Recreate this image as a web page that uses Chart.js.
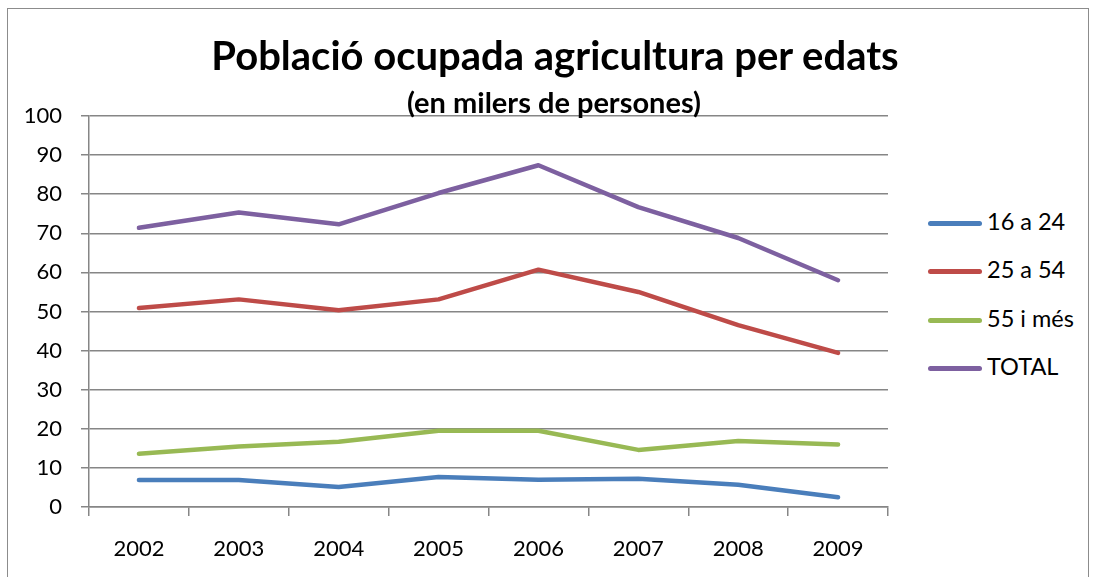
<!DOCTYPE html>
<html>
<head>
<meta charset="utf-8">
<script src="https://cdn.jsdelivr.net/npm/chart.js@4.4.1/dist/chart.umd.min.js"></script>
<style>
  body { margin: 0; background: #fff; font-family: Lato, sans-serif; }
  #wrap { position: relative; width: 1094px; height: 577px; overflow: hidden; }
  #frame { position: absolute; left: 7px; top: 8px; width: 1080px; height: 600px; border: 1px solid #8c8c8c; }
  #title { position: absolute; left: 0; width: 1110px; top: 31px; text-align: center; font-weight: bold; font-size: 40px; color: #000; }
  #subtitle { position: absolute; left: 0; width: 1108px; top: 84px; text-align: center; font-weight: bold; font-size: 29px; color: #000; }
  #holder { position: absolute; left: 0; top: 0; width: 900px; height: 577px; }
  #legend { position: absolute; left: 928px; top: 207px; font-size: 23.5px; }
  .item { height: 48.3px; display: flex; align-items: flex-start; }
  .swatch { width: 54px; height: 5px; border-radius: 3px; margin-top: 14px; margin-right: 5px; }
</style>
</head>
<body>
<div id="wrap">
  <div id="frame"></div>
  <div id="holder"><canvas id="myChart"></canvas></div>
  <div id="title">Població ocupada agricultura per edats</div>
  <div id="subtitle">(en milers de persones)</div>
  <div id="legend"></div>
</div>
<script>
/* data */
var years = ['2002', '2003', '2004', '2005', '2006', '2007', '2008', '2009'];
var age16to24 = [6.9, 6.9, 5.1, 7.7, 7.0, 7.2, 5.7, 2.5];
var age25to54 = [50.9, 53.1, 50.3, 53.1, 60.7, 55.0, 46.5, 39.4];
var age55plus = [13.6, 15.5, 16.7, 19.5, 19.5, 14.6, 16.9, 16.0];
var total = [71.4, 75.3, 72.3, 80.3, 87.4, 76.7, 68.8, 58.0];

var seriesNames = ['16 a 24', '25 a 54', '55 i més', 'TOTAL'];
var seriesColors = ['#4a7ebb', '#be4b48', '#98b954', '#7d60a0'];
var seriesValues = [age16to24, age25to54, age55plus, total];

var datasetses = seriesValues.map((vals, i) => ({
  label: seriesNames[i],
  data: vals,
  borderColor: seriesColors[i],
  backgroundColor: seriesColors[i],
  borderWidth: 4.5,
  borderCapStyle: 'round',
  borderJoinStyle: 'round',
  pointRadius: 0,
  tension: 0
}));

var gridColor = '#868686';
var tickFont = { family: 'Lato', size: 22 };

var ctx = document.getElementById('myChart').getContext('2d');
var myChart = new Chart(ctx, {
  type: 'line',
  data: { labels: years, datasets: datasetses },
  options: {
    responsive: true,
    maintainAspectRatio: false,
    animation: false,
    layout: { padding: { left: 0, right: 12, top: 116, bottom: 0 } },
    plugins: { legend: { display: false }, tooltip: { enabled: false } },
    scales: {
      x: {
        offset: true,
        grid: { offset: true, drawOnChartArea: false, drawTicks: true, tickLength: 9, color: gridColor, lineWidth: 1.5 },
        border: { color: gridColor, width: 1.5 },
        ticks: { font: tickFont, color: '#000', padding: 20, maxRotation: 0 },
        afterFit: function(scale) { scale.height = 70; }
      },
      y: {
        min: 0,
        max: 100,
        ticks: { stepSize: 10, font: tickFont, color: '#000', padding: 19 },
        grid: { color: gridColor, lineWidth: 1.5, tickLength: 8 },
        border: { color: gridColor, width: 1.5 },
        afterFit: function(scale) { scale.width = 89; }
      }
    }
  }
});

/* legend */
var legendEl = document.getElementById('legend');
myChart.data.datasets.forEach((ds) => {
  var row = document.createElement('div');
  row.className = 'item';
  row.innerHTML = '<div class="swatch" style="background:' + ds.borderColor + '"></div><span>' + ds.label + '</span>';
  legendEl.appendChild(row);
});
</script>
</body>
</html>
